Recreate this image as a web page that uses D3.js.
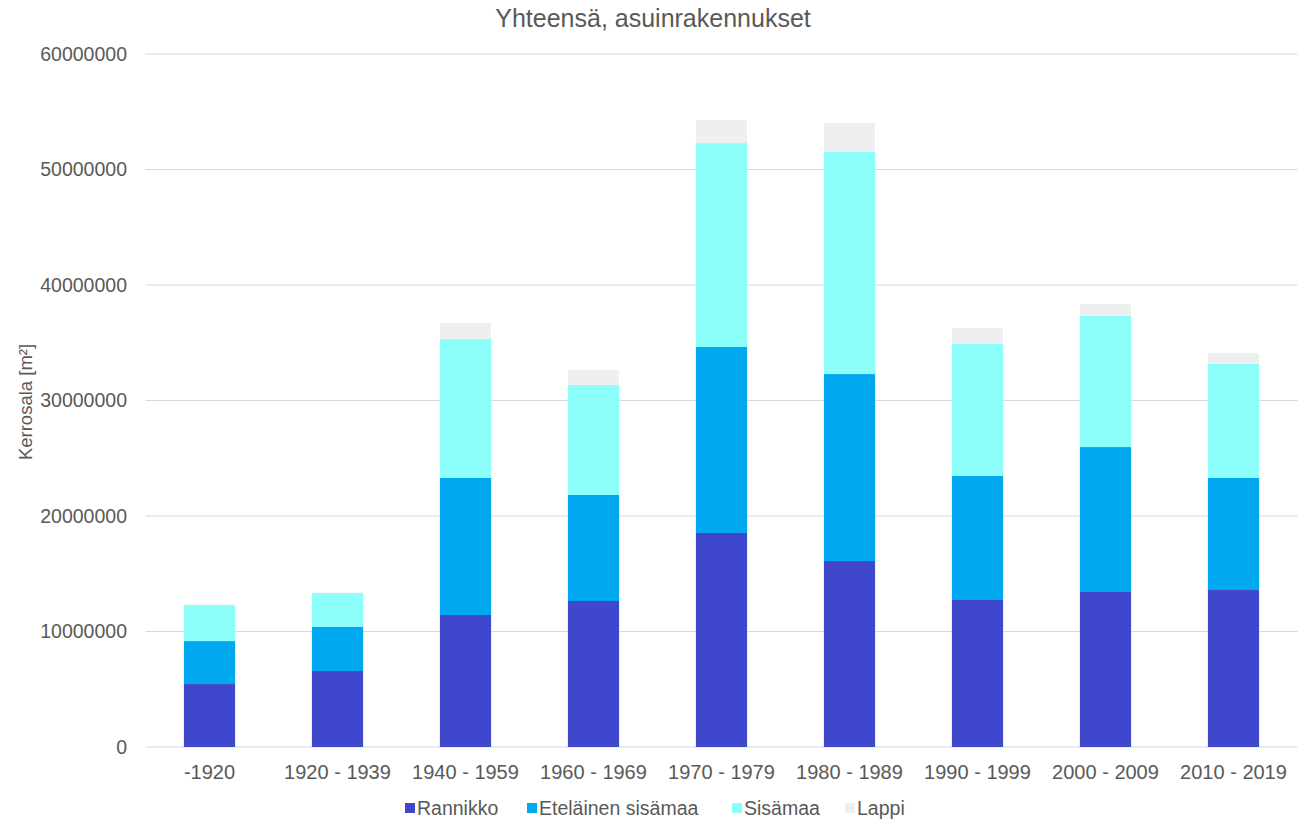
<!DOCTYPE html>
<html><head><meta charset="utf-8">
<script src="https://cdn.jsdelivr.net/npm/d3@7/dist/d3.min.js"></script>
<style>body{margin:0;background:#fff;} svg{font-family:"Liberation Sans",Arial,sans-serif;}</style>
</head><body><svg id="c" width="1303" height="827"></svg>
<script>
const categories = ["-1920","1920 - 1939","1940 - 1959","1960 - 1969","1970 - 1979","1980 - 1989","1990 - 1999","2000 - 2009","2010 - 2019"];
const seriesNames = ["Rannikko","Eteläinen sisämaa","Sisämaa","Lappi"];
const rannikko = [5450000,6580000,11430000,12640000,18530000,16100000,12730000,13420000,13590000];
const etelainen = [3720000,3840000,11860000,9180000,16100000,16190000,10730000,12550000,9700000];
const sisamaa = [3120000,2910000,12030000,9520000,17660000,19230000,11430000,11350000,9870000];
const lappi = [50000,50000,1390000,1300000,2000000,2510000,1390000,1030000,950000];
const yTicks = [0,10000000,20000000,30000000,40000000,50000000,60000000];
const colors = ["#3f48cc","#00a8f0","#8cfffa","#efefef"];

const svg = d3.select("#c");
const m = {l:145.5, r:1297.5, t:54, b:747};
const x = d3.scaleBand().domain(categories).range([m.l,m.r]).paddingInner(0.6).paddingOuter(0.3);
const y = d3.scaleLinear().domain([0,60000000]).range([m.b,m.t]);

const rows = categories.map((c,i)=>({cat:c, "Rannikko":rannikko[i], "Eteläinen sisämaa":etelainen[i], "Sisämaa":sisamaa[i], "Lappi":lappi[i]}));
const stack = d3.stack().keys(seriesNames)(rows);

svg.append("g").selectAll("line").data(yTicks).join("line")
  .attr("x1",m.l).attr("x2",m.r).attr("y1",d=>y(d)).attr("y2",d=>y(d))
  .attr("stroke","#d9d9d9").attr("stroke-width",1.2);

svg.append("g").selectAll("text").data(yTicks).join("text")
  .attr("x",127).attr("y",d=>y(d)).attr("dy","0.35em").attr("text-anchor","end")
  .attr("fill","#595959").style("font-size","19.5px").text(d=>d3.format("d")(d));

svg.append("g").selectAll("g").data(stack).join("g").attr("fill",(d,i)=>colors[i])
  .selectAll("rect").data(d=>d).join("rect")
  .attr("x",d=>x(d.data.cat)).attr("width",x.bandwidth())
  .attr("y",d=>y(d[1])).attr("height",d=>y(d[0])-y(d[1]));

svg.append("g").selectAll("text").data(categories).join("text")
  .attr("x",d=>x(d)+x.bandwidth()/2).attr("y",779).attr("text-anchor","middle")
  .attr("fill","#595959").style("font-size","20px").text(d=>d);

svg.append("text").attr("x",653).attr("y",27).attr("text-anchor","middle")
  .attr("fill","#595959").style("font-size","25px").text("Yhteensä, asuinrakennukset");

svg.append("text").attr("transform","translate(32,402) rotate(-90)").attr("text-anchor","middle")
  .attr("fill","#595959").style("font-size","18.5px").text("Kerrosala [m²]");

const legX = [405, 527, 732, 845];
const leg = svg.append("g").selectAll("g").data(seriesNames).join("g")
  .attr("transform",(d,i)=>`translate(${legX[i]},808)`);
leg.append("rect").attr("x",0).attr("y",-5).attr("width",10).attr("height",10).attr("fill",(d,i)=>colors[i]);
leg.append("text").attr("x",12).attr("y",0).attr("dy","0.35em").attr("fill","#595959")
  .style("font-size","19.5px").text(d=>d);
</script></body></html>
